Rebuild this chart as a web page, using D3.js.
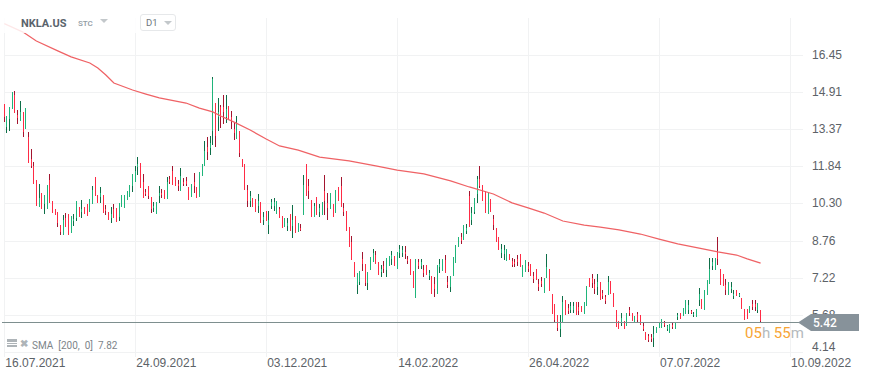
<!DOCTYPE html>
<html lang="en">
<head>
<meta charset="UTF-8" />
<title>NKLA.US D1</title>
<style>
  body { margin: 0; background: #fff; }
  svg { display: block; font-family: Roboto, sans-serif; }
  .domain { display: none; }
  .axis text { fill: #5c6267; font-size: 12px; }
</style>
</head>
<body>
<div id="chart"></div>
<script src="https://cdn.jsdelivr.net/npm/d3@7"></script>
<script>
// daily candles
var opens = [
  14.42,13.48,13.79,14.23,14.79,13.97,13.73,14.09,13.39,13.07,
  12.15,11.87,11.27,10.13,10.73,10.28,10.08,11.25,10.40,10.06,
  9.95,9.41,9.01,9.70,9.85,9.08,9.55,9.70,10.17,9.95,
  10.17,10.26,9.95,10.28,11.38,10.65,10.55,10.65,10.08,9.95,
  9.70,10.05,10.10,9.75,10.14,10.11,10.44,10.58,11.00,11.20,
  11.80,11.96,11.20,10.78,11.02,10.57,10.12,9.88,10.60,10.75,
  10.84,10.49,11.30,11.65,11.38,11.10,10.83,11.20,11.22,10.97,
  10.55,11.20,10.97,10.58,11.45,11.87,12.65,12.60,13.30,14.48,
  13.90,14.30,14.30,13.90,14.34,13.90,13.40,12.97,13.32,12.14,
  11.94,10.86,10.40,10.51,10.49,10.20,10.35,9.60,9.97,9.40,
  10.20,10.20,9.85,10.05,9.78,9.34,9.35,9.86,9.35,9.79,
  9.13,9.30,9.82,11.93,11.00,10.44,9.75,10.56,9.95,9.82,
  10.80,10.30,10.07,10.27,9.91,10.98,11.00,10.10,9.98,9.32,
  8.71,7.88,6.92,7.05,8.00,7.79,7.00,7.54,7.87,8.15,
  7.87,7.45,7.72,7.55,7.70,8.00,8.12,7.58,8.25,8.25,
  8.30,8.00,7.99,7.50,6.38,7.85,7.70,7.55,7.75,7.30,
  7.29,6.95,6.54,7.65,7.50,7.95,7.05,6.85,7.29,7.83,
  8.49,8.90,8.78,9.15,10.60,9.60,9.95,10.70,11.30,11.06,
  10.81,9.86,10.48,9.65,9.28,8.91,8.25,8.20,7.91,8.20,
  7.90,7.87,8.00,8.20,7.25,7.46,7.70,7.79,7.30,7.58,
  6.95,7.10,6.59,7.21,7.58,6.54,6.13,5.67,5.10,5.38,
  6.29,5.95,5.90,5.90,6.21,6.00,6.05,5.71,6.05,7.21,
  7.20,6.95,6.85,7.04,6.60,6.40,6.50,7.08,6.59,5.88,
  5.43,5.40,5.43,5.22,5.90,5.76,5.38,5.70,5.67,5.20,
  4.97,4.80,4.78,4.70,4.93,5.13,5.13,5.34,5.10,4.93,
  5.25,5.09,5.58,5.76,5.63,5.72,5.90,5.83,5.66,5.59,
  6.30,6.34,5.88,6.50,6.96,7.70,7.54,8.30,7.58,7.37,
  6.90,6.50,6.75,6.45,6.71,6.47,6.38,5.92,5.92,5.76,
  6.15,6.12,5.90,5.88
];
var highs = [
  14.42,13.92,14.31,14.92,14.96,14.17,14.55,14.09,14.26,13.26,
  12.56,12.02,11.27,11.11,10.73,10.65,11.07,11.52,10.40,10.06,
  9.95,9.41,9.82,9.89,9.85,9.78,9.86,10.40,10.17,10.44,
  10.17,10.26,10.49,11.02,11.38,10.65,10.98,10.65,10.24,9.95,
  10.17,10.28,10.10,10.32,10.65,10.65,10.82,11.07,11.52,11.85,
  12.21,11.96,11.52,10.90,11.02,10.57,10.36,10.36,11.01,10.90,
  10.84,11.38,11.44,11.85,11.38,11.27,11.77,11.37,11.38,10.97,
  11.11,11.56,10.97,11.60,11.92,12.89,13.04,13.11,15.53,14.48,
  14.66,14.38,14.79,14.79,14.34,14.13,13.65,13.92,13.32,12.14,
  11.94,11.07,10.82,10.51,10.49,10.69,10.35,9.95,9.97,10.00,
  10.49,10.51,10.40,10.17,9.78,9.68,9.70,9.86,10.24,9.79,
  9.48,9.44,11.47,11.93,11.31,10.44,10.33,10.56,10.27,10.36,
  11.47,10.73,10.73,10.27,10.85,10.98,11.39,10.31,9.98,9.32,
  8.95,7.88,7.41,7.50,8.28,7.79,7.46,8.08,8.41,8.33,
  7.87,7.75,7.91,8.04,8.12,8.33,8.12,8.28,8.57,8.53,
  8.53,8.12,7.99,7.50,7.99,7.99,7.99,7.75,7.75,7.54,
  7.29,7.25,7.75,7.99,7.99,8.16,7.29,7.29,8.08,8.57,
  8.91,9.07,9.40,9.44,10.81,10.15,10.52,11.43,11.85,11.06,
  10.81,10.73,10.48,9.82,9.28,8.91,8.62,8.57,8.41,8.20,
  8.04,7.99,8.16,8.20,7.75,7.95,7.87,7.79,7.46,7.58,
  7.16,7.25,7.21,8.20,7.58,6.54,6.13,5.67,5.67,6.46,
  6.29,6.13,6.21,6.21,6.21,6.21,6.05,6.21,6.87,7.21,
  7.37,7.16,7.37,7.04,6.71,6.50,7.29,7.08,6.59,5.88,
  5.43,5.76,5.43,5.76,6.01,5.76,5.63,5.80,5.67,5.34,
  4.97,4.89,4.89,5.22,5.18,5.38,5.51,5.43,5.26,5.30,
  5.34,5.38,5.76,5.76,5.96,6.30,6.30,5.88,5.80,5.92,
  6.79,6.34,6.71,7.12,8.04,8.04,8.04,8.91,7.58,7.37,
  7.17,7.04,7.04,6.71,6.71,6.59,6.38,5.92,5.92,6.05,
  6.30,6.30,6.17,5.88
];
var lows = [
  13.69,13.23,13.30,14.23,14.06,13.59,13.73,13.07,13.39,11.99,
  11.78,11.12,10.21,10.13,10.07,9.84,10.08,10.33,9.91,9.82,
  9.34,9.01,9.01,9.34,9.01,9.08,9.38,9.57,9.74,9.71,
  9.86,9.79,9.95,10.28,10.61,10.33,10.32,9.92,9.82,9.62,
  9.50,9.71,9.53,9.59,10.14,10.11,10.44,10.58,10.79,11.20,
  11.48,10.95,10.54,10.61,10.50,9.92,9.96,9.88,10.33,10.51,
  10.47,10.49,11.09,11.07,11.02,10.83,10.83,11.00,11.00,10.46,
  10.55,10.71,10.54,10.58,11.45,11.87,12.11,12.29,12.72,12.64,
  13.32,13.44,13.61,13.62,13.76,13.40,12.94,12.97,12.24,11.81,
  10.86,10.14,10.14,10.14,9.96,9.89,9.50,9.39,9.55,9.03,
  10.08,9.99,9.85,9.68,9.30,9.34,9.15,9.15,8.86,9.09,
  9.13,9.15,9.82,10.60,10.48,9.75,9.75,9.82,9.75,9.82,
  9.82,9.61,10.07,9.75,9.91,10.40,10.16,9.79,9.17,8.49,
  7.95,7.26,6.54,6.92,7.50,6.88,6.71,7.54,7.87,7.79,
  7.33,7.26,7.43,7.26,7.70,7.75,7.70,7.58,8.04,8.09,
  7.99,7.79,7.33,6.79,6.38,7.58,7.58,7.25,7.33,7.12,
  6.54,6.42,6.54,7.41,7.50,7.41,6.79,6.64,7.29,7.83,
  8.49,8.62,8.78,9.03,9.32,9.40,9.86,10.31,10.94,10.40,
  9.90,9.86,9.94,9.20,8.70,8.37,8.04,7.95,7.91,7.95,
  7.66,7.66,7.70,7.66,7.25,7.46,7.46,7.29,7.00,7.12,
  6.67,6.83,6.59,7.21,6.67,5.71,5.38,5.01,4.76,5.38,
  5.67,5.71,5.74,5.75,5.67,5.67,5.80,5.71,6.05,6.83,
  6.79,6.54,6.50,6.30,6.35,6.13,6.50,6.54,6.00,5.18,
  5.09,5.22,5.09,5.22,5.63,5.43,5.38,5.38,5.26,5.01,
  4.64,4.56,4.56,4.35,4.93,5.13,5.13,5.18,5.01,4.93,
  5.09,5.09,5.47,5.51,5.63,5.72,5.72,5.72,5.59,5.59,
  6.05,5.92,5.88,6.50,6.96,7.54,7.54,7.75,6.92,6.88,
  6.50,6.50,6.57,6.34,6.46,6.41,5.92,5.47,5.51,5.76,
  5.88,5.85,5.76,5.37
];
var closes = [
  13.90,13.92,14.31,14.92,14.06,13.85,14.10,13.27,14.26,11.99,
  11.85,11.12,10.21,10.54,10.07,10.65,11.07,10.33,9.91,9.82,
  9.48,9.10,9.60,9.34,9.01,9.78,9.65,10.40,9.74,10.05,
  9.86,9.79,10.49,10.86,10.61,10.33,10.75,9.92,9.98,9.62,
  9.85,9.71,9.53,10.32,10.65,10.65,10.82,11.07,11.52,11.65,
  11.95,10.95,10.54,10.70,10.60,10.05,10.20,10.36,10.75,10.65,
  10.47,11.20,11.20,11.07,11.02,11.00,11.44,11.10,11.12,10.46,
  11.11,11.00,10.54,11.60,11.92,12.47,12.45,12.80,15.45,13.10,
  14.10,13.90,14.10,14.20,13.76,13.70,13.20,13.60,12.40,11.81,
  10.86,10.38,10.60,10.14,9.96,10.40,9.50,9.75,9.55,9.60,
  10.35,10.35,10.40,9.68,9.30,9.68,9.50,9.15,9.60,9.09,
  9.48,9.20,11.06,10.60,10.80,9.75,10.20,9.82,10.10,10.36,
  10.40,10.10,10.73,9.75,10.85,10.40,10.16,9.95,9.17,8.49,
  7.95,7.26,7.41,7.50,7.80,7.00,7.46,8.08,8.25,7.79,
  7.33,7.60,7.60,8.04,8.12,8.15,7.70,8.28,8.40,8.35,
  8.20,7.90,7.33,6.79,7.99,7.70,7.85,7.40,7.33,7.40,
  6.54,6.75,7.75,7.80,7.99,7.41,6.90,7.29,8.08,8.57,
  8.90,8.75,9.40,9.30,9.32,9.90,10.52,11.30,11.00,10.40,
  9.90,10.73,9.94,9.40,8.70,8.37,8.40,8.35,8.41,7.95,
  7.75,7.77,7.85,7.66,7.75,7.95,7.60,7.29,7.15,7.12,
  6.85,6.95,7.21,7.65,6.67,5.71,5.45,5.15,5.40,6.20,
  5.67,5.85,6.05,6.05,5.67,5.85,5.80,6.21,6.87,6.83,
  7.00,6.75,7.05,6.30,6.45,6.25,7.05,6.54,6.00,5.18,
  5.09,5.55,5.09,5.76,5.75,5.43,5.63,5.45,5.26,5.10,
  4.64,4.65,4.66,4.90,5.18,5.38,5.51,5.26,5.20,5.30,
  5.17,5.38,5.66,5.51,5.96,6.30,6.10,5.77,5.72,5.92,
  6.55,5.92,6.71,7.12,7.60,7.85,8.04,8.00,6.92,6.88,
  6.70,7.04,6.85,6.55,6.46,6.53,5.92,5.47,5.51,6.05,
  6.00,6.00,6.17,5.42
];

// SMA 200, read at the bars where the line bends
var smaBars = [0,7,12,20,25,32,35,38,41,48,53,58,68,73,78,81,86,92,98,103,110,118,129,139,147,157,167,174,183,190,196,202,209,217,223,230,238,245,252,260,267,274,278,283];
var smaValues = [17.75,17.40,17.03,16.62,16.37,16.12,15.91,15.62,15.29,15.00,14.83,14.67,14.46,14.25,14.09,13.92,13.67,13.34,12.97,12.68,12.51,12.22,12.06,11.85,11.68,11.52,11.23,10.98,10.69,10.32,10.11,9.90,9.57,9.40,9.32,9.20,9.03,8.82,8.62,8.45,8.29,8.16,8.00,7.82];

var priceTicks = [16.45,14.91,13.37,11.84,10.30,8.76,7.22,5.68,4.14];
var dateBars = [0,49,98,147,196,245,294];
var dateLabels = ["16.07.2021","24.09.2021","03.12.2021","14.02.2022","26.04.2022","07.07.2022","10.09.2022"];
var lastPrice = 5.42;

var w = 871;
var h = 378;

var svg = d3.select("#chart").append("svg")
  .attr("width", w)
  .attr("height", h);

var xScale = d3.scaleLinear().domain([0, 294]).range([4.3, 790]);
var yScale = d3.scaleLinear().domain([16.45, 4.14]).range([55, 352]);

// snap to the pixel so the 1px candles stay sharp
function barX(i) { return Math.floor(xScale(i)) + 0.5; }

// grid
svg.append("g").selectAll("line").data(priceTicks).enter().append("line")
  .attr("x1", 4).attr("x2", 803)
  .attr("y1", function(d) { return Math.round(yScale(d)) + 0.5; })
  .attr("y2", function(d) { return Math.round(yScale(d)) + 0.5; })
  .attr("stroke", "#f1f2f3");

svg.append("g").selectAll("line").data(dateBars).enter().append("line")
  .attr("x1", function(d) { return barX(d); })
  .attr("x2", function(d) { return barX(d); })
  .attr("y1", 18).attr("y2", 357)
  .attr("stroke", "#f1f2f3");

// candles: dark wick with the bright body on top
var candles = svg.append("g").attr("shape-rendering", "crispEdges");
opens.forEach(function(o, i) {
  var up = closes[i] >= o;
  candles.append("line")
    .attr("x1", barX(i)).attr("x2", barX(i))
    .attr("y1", yScale(highs[i])).attr("y2", yScale(lows[i]))
    .attr("stroke", up ? "#0e6e48" : "#a3152f");
  candles.append("line")
    .attr("x1", barX(i)).attr("x2", barX(i))
    .attr("y1", yScale(Math.max(o, closes[i]))).attr("y2", yScale(Math.min(o, closes[i])))
    .attr("stroke", up ? "#1fb57a" : "#ff2b45");
});

// SMA line
var smaLine = d3.line()
  .x(function(d, i) { return xScale(smaBars[i]); })
  .y(function(d) { return yScale(d); });

svg.append("path")
  .datum(smaValues)
  .attr("d", smaLine)
  .attr("fill", "none")
  .attr("stroke", "#ef6265")
  .attr("stroke-width", 1.25);

// axes
var yAxis = d3.axisRight(yScale)
  .tickValues(priceTicks)
  .tickFormat(d3.format(".2f"))
  .tickSize(0);
var yGroup = svg.append("g").attr("class", "axis")
  .attr("transform", "translate(812,0)")
  .call(yAxis);
yGroup.selectAll("text").attr("x", 0).attr("dy", "0.3em");
yGroup.selectAll(".tick").filter(function(d) { return d === 4.14; })
  .select("text").attr("dy", "-0.1em");

var xAxis = d3.axisBottom(xScale)
  .tickValues(dateBars)
  .tickFormat(function(d, i) { return dateLabels[i]; })
  .tickSize(0);
var xGroup = svg.append("g").attr("class", "axis")
  .attr("transform", "translate(0,357)")
  .call(xAxis);
xGroup.selectAll("text").attr("text-anchor", "start").attr("x", 0.5).attr("y", 0).attr("dy", "0.8em");

// last price line and tag
var priceY = Math.ceil(yScale(lastPrice)) + 0.5;
svg.append("line")
  .attr("x1", 2).attr("x2", 800)
  .attr("y1", priceY).attr("y2", priceY)
  .attr("stroke", "#7e8f8f");

svg.append("path")
  .attr("d", "M798," + priceY + "L811," + (priceY - 8.5) + "H859V" + (priceY + 8.5) + "H811Z")
  .attr("fill", "#87929a");

svg.append("text")
  .attr("x", 813).attr("y", priceY + 4.5)
  .attr("fill", "#fff").attr("font-size", 12).attr("font-weight", 500)
  .text(d3.format(".2f")(lastPrice));

var timer = svg.append("text")
  .attr("x", 745).attr("y", 338)
  .attr("font-size", 15);
timer.append("tspan").attr("fill", "#f7a535").text("05");
timer.append("tspan").attr("fill", "#b4babd").text("h ");
timer.append("tspan").attr("fill", "#f7a535").text("55");
timer.append("tspan").attr("fill", "#b4babd").text("m");

// header on its pale strip
svg.append("rect")
  .attr("x", 0).attr("y", 14)
  .attr("width", 180).attr("height", 19)
  .attr("fill", "#fff").attr("opacity", 0.85);

svg.append("text")
  .attr("x", 21).attr("y", 27)
  .attr("fill", "#5a646c").attr("font-size", 11).attr("font-weight", 700)
  .text("NKLA.US");

svg.append("text")
  .attr("x", 78).attr("y", 26)
  .attr("fill", "#8f9ba3").attr("font-size", 8).attr("font-weight", 500)
  .text("STC");

svg.append("path").attr("d", "M100,19H108L104,23Z").attr("fill", "#c3c8cb");

svg.append("rect")
  .attr("x", 140.5).attr("y", 14.5)
  .attr("width", 35).attr("height", 16).attr("rx", 2.5)
  .attr("fill", "#fff").attr("stroke", "#e6e8ea");

svg.append("text")
  .attr("x", 146).attr("y", 26)
  .attr("fill", "#6d767c").attr("font-size", 9.5)
  .text("D1");

svg.append("path").attr("d", "M164,21H172L168,25Z").attr("fill", "#c3c8cb");

// indicator legend
svg.append("path")
  .attr("d", "M7,339H17V342H7ZM7,343H17V344H7ZM7,345H17V347H7Z")
  .attr("fill", "#aeb4b8");

svg.append("text")
  .attr("x", 20).attr("y", 347)
  .attr("fill", "#aeb4b8").attr("font-size", 10).attr("font-weight", 700)
  .text("\u2716");

var legend = svg.append("text")
  .attr("x", 32).attr("y", 349)
  .attr("fill", "#7d858a").attr("font-size", 10)
  .attr("xml:space", "preserve");
legend.text("SMA  [200,  0]  7.82");
</script>
</body>
</html>
